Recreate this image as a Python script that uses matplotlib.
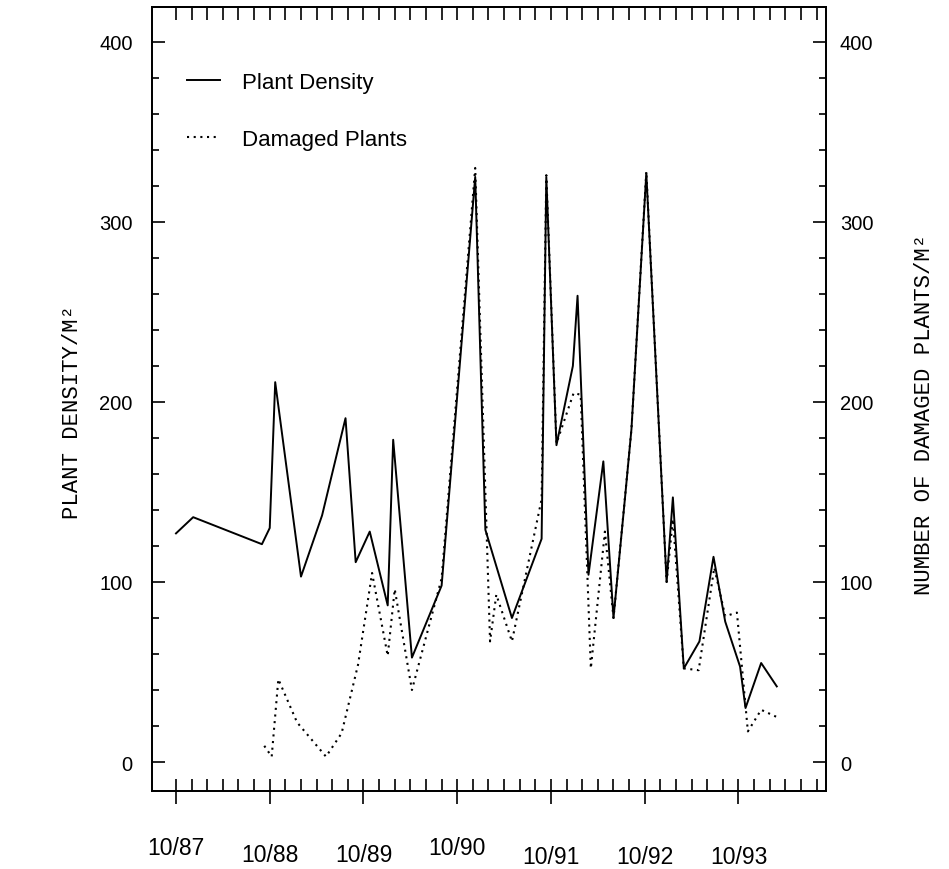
import matplotlib
matplotlib.use('Agg')
import matplotlib.pyplot as plt
import matplotlib.transforms as mtransforms
import numpy as np

# months counted from 10/87
density_months = [0, 2.2, 11.0, 12.0, 12.7, 16.0, 18.7, 21.7, 23.0, 24.8, 27.1, 27.8,
                  30.2, 34.0, 38.3, 39.6, 43.0, 46.8, 47.4, 48.7, 50.8, 51.4, 52.8,
                  54.7, 56.0, 57.5, 58.3, 60.2, 62.8, 63.6, 65.0, 67.0, 68.8, 70.3,
                  72.2, 72.9, 74.9, 76.9]
density = [127, 136, 121, 130, 211, 103, 137, 191, 111, 128, 87, 179,
           58, 98, 325, 129, 80, 124, 325, 176, 220, 259, 104,
           167, 80, 148, 185, 327, 100, 147, 52, 67, 114, 78,
           53, 30, 55, 42]

damaged_months = [11.3, 12.25, 13.1, 15.5, 19.2, 21.2, 23.3, 25.1, 27.1, 28.0, 30.2,
                  34.0, 38.3, 40.2, 41.0, 43.0, 46.8, 47.4, 48.7, 50.9, 51.8, 53.1,
                  54.9, 56.0, 58.3, 60.2, 62.8, 63.6, 65.0, 66.9, 68.9, 70.3, 71.8,
                  73.2, 74.9, 76.9]
damaged = [9, 3, 46, 22, 3, 16, 54, 105, 59, 96, 40,
           102, 330, 67, 93, 67, 146, 326, 177, 205, 204, 52,
           128, 80, 185, 328, 100, 135, 52, 51, 108, 81, 83,
           17, 29, 25]

year_ticks = [0, 12, 24, 36, 48, 60, 72]
year_labels = ['10/87', '10/88', '10/89', '10/90', '10/91', '10/92', '10/93']
label_drop = [0, 7, 7, 0, 9, 9, 9]   # staggered labels, in pixels

plt.rcParams['font.family'] = ['Liberation Sans', 'DejaVu Sans']

fig = plt.figure(figsize=(9.49, 8.7), dpi=100)
ax = fig.add_axes([152/949, 78/870, (826-152)/949, (792-8)/870])

ax.plot(density_months, density, '-', color='black', lw=1.4, label='Plant Density')
ax.plot(damaged_months, damaged, color='black', lw=1.5, linestyle=(0, (1, 2.2)),
        label='Damaged Plants')

ax.set_xlim(-3.07, 83.2)
ax.set_ylim(-16.1, 419.4)

for s in ax.spines.values():
    s.set_linewidth(1.3)

# x axis: major years (in-out), minor every 2 months (in)
ax.set_xticks(year_ticks)
ax.set_xticks(np.arange(0, 83, 2), minor=True)
ax.set_xticklabels([])
ax.tick_params(axis='x', which='major', direction='inout', length=18, width=1.2)
ax.tick_params(axis='x', which='minor', direction='in', length=9, width=1.2)

top = ax.secondary_xaxis('top')
top.set_xticks(np.arange(0, 83, 2))
top.set_xticklabels([])
top.tick_params(direction='in', length=9, width=1.2)
top.spines['top'].set_linewidth(1.3)

for m, lab, d in zip(year_ticks, year_labels, label_drop):
    tr = mtransforms.blended_transform_factory(ax.transData, ax.transAxes) + \
        mtransforms.ScaledTranslation(0, -d / 100, fig.dpi_scale_trans)
    ax.text(m, -0.072, lab, transform=tr, ha='center', va='center', fontsize=16.5)

# y axes
yt = [0, 100, 200, 300, 400]
ax.set_yticks(yt)
ax.set_yticks(np.arange(0, 420, 20), minor=True)
ax.tick_params(axis='y', which='major', direction='in', length=9.5, width=1.2,
               labelsize=14.5, pad=14)
ax.tick_params(axis='y', which='minor', direction='in', length=5, width=1.2)

ax2 = ax.twinx()
ax2.set_ylim(ax.get_ylim())
ax2.set_yticks(yt)
ax2.set_yticks(np.arange(0, 420, 20), minor=True)
ax2.tick_params(axis='y', which='major', direction='in', length=9.5, width=1.2,
                labelsize=14.5, pad=10)
ax2.tick_params(axis='y', which='minor', direction='in', length=5, width=1.2)
for s in ax2.spines.values():
    s.set_linewidth(1.3)

fig.text(73/949, 1 - 412/870, 'PLANT DENSITY/M²', rotation=90, ha='center',
         va='center', fontsize=16, family='Liberation Mono')
fig.text(925/949, 1 - 414/870, 'NUMBER OF DAMAGED PLANTS/M²', rotation=90,
         ha='center', va='center', fontsize=16, family='Liberation Mono')

ax.legend(loc='upper left', bbox_to_anchor=(0.0386, 0.929), frameon=False,
          fontsize=16, handlelength=1.5, labelspacing=1.65, borderaxespad=0,
          handletextpad=1.0)

fig.savefig('out.png', dpi=100)
